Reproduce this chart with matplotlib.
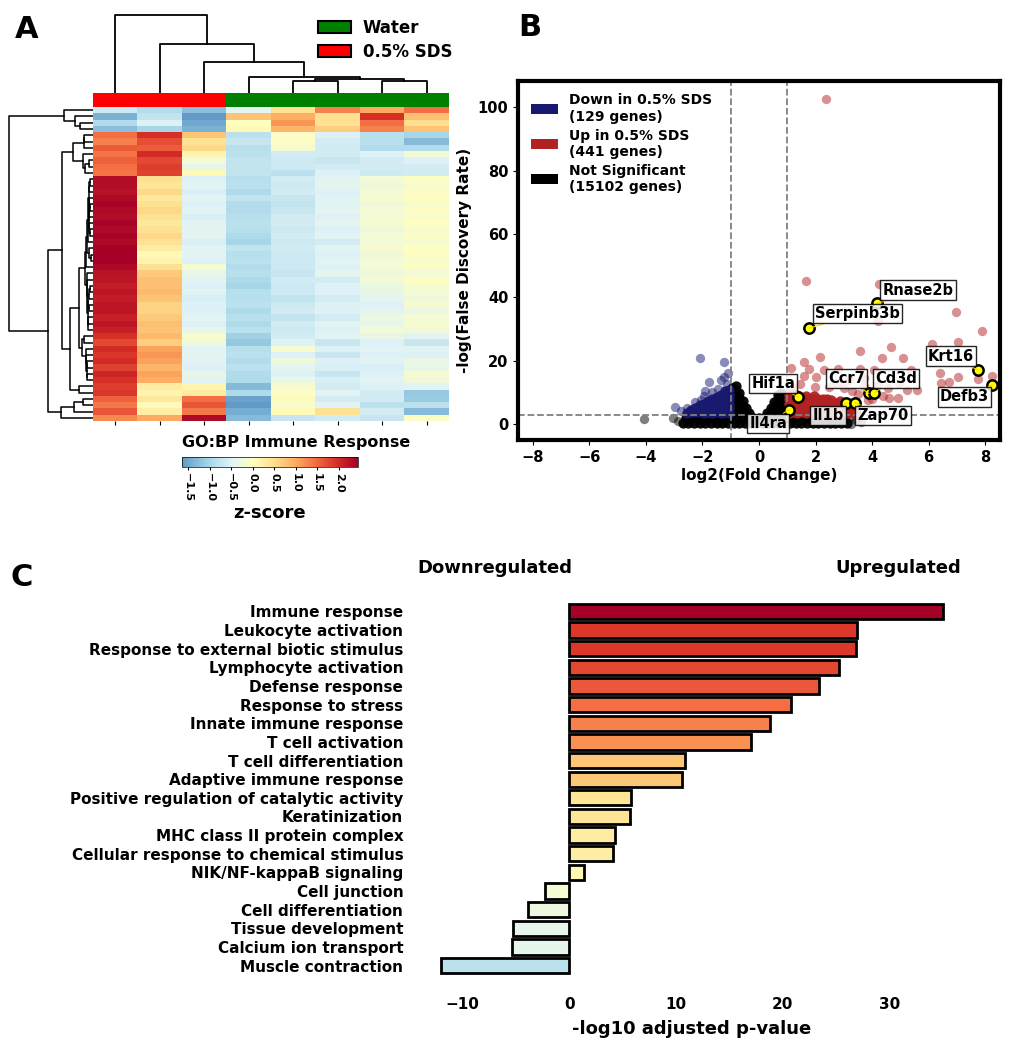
import numpy as np
import matplotlib
matplotlib.use('Agg')
import matplotlib.pyplot as plt
from matplotlib.patches import Patch
from matplotlib.colors import Normalize, ListedColormap

plt.rcParams['font.family'] = 'DejaVu Sans'
plt.rcParams['font.weight'] = 'bold'
plt.rcParams['axes.labelweight'] = 'bold'

# ---------------- panel A data: z-scores, columns SDS1-3 then Water1-5 ----------------
groups = ['0.5% SDS', '0.5% SDS', '0.5% SDS', 'Water', 'Water', 'Water', 'Water', 'Water']
group_colors = {'0.5% SDS': 'red', 'Water': 'green'}
heat = np.array([
    [-0.65, -0.90, -1.25, -0.40, 0.45, 1.30, 1.00, 1.47],
    [-1.40, -0.75, -1.64, 0.75, 0.95, 0.50, 1.95, 0.80],
    [-0.90, -0.50, -1.50, 0.00, 1.15, 0.45, 1.45, 0.50],
    [-1.25, -1.00, -1.40, 0.10, 0.90, 0.65, 1.30, 0.75],
    [1.45, 1.95, 0.75, -0.80, -0.05, -0.50, -0.85, -1.00],
    [1.30, 1.70, 0.45, -0.70, -0.05, -0.60, -0.85, -1.30],
    [1.60, 1.60, 0.55, -0.85, -0.15, -0.60, -0.90, -0.90],
    [1.40, 2.00, 0.15, -0.80, -0.60, -0.60, -0.50, -0.20],
    [1.55, 1.75, -0.20, -0.75, -0.65, -0.70, -0.60, -0.50],
    [1.45, 1.85, -0.35, -0.75, -0.65, -0.60, -0.60, -0.60],
    [1.40, 1.80, 0.10, -0.75, -0.80, -0.50, -0.65, -0.60],
    [2.30, 0.50, -0.50, -0.85, -0.60, -0.45, -0.20, -0.05],
    [2.30, 0.40, -0.45, -0.80, -0.65, -0.40, -0.25, -0.10],
    [2.25, 0.55, -0.55, -0.95, -0.60, -0.50, -0.20, -0.05],
    [2.35, 0.35, -0.45, -0.75, -0.70, -0.45, -0.15, 0.00],
    [2.40, 0.45, -0.50, -0.90, -0.75, -0.45, -0.25, -0.10],
    [2.35, 0.55, -0.45, -0.90, -0.70, -0.40, -0.20, -0.05],
    [2.30, 0.45, -0.55, -0.85, -0.60, -0.50, -0.20, -0.10],
    [2.40, 0.35, -0.45, -0.80, -0.60, -0.40, -0.15, 0.00],
    [2.35, 0.45, -0.40, -0.85, -0.65, -0.50, -0.25, -0.10],
    [2.40, 0.55, -0.45, -0.95, -0.60, -0.45, -0.20, -0.05],
    [2.35, 0.45, -0.55, -1.00, -0.65, -0.60, -0.20, -0.15],
    [2.42, 0.30, -0.45, -0.75, -0.60, -0.45, -0.15, 0.00],
    [2.45, 0.10, -0.45, -0.85, -0.65, -0.50, -0.25, -0.05],
    [2.45, 0.15, -0.50, -0.80, -0.65, -0.45, -0.20, -0.10],
    [2.35, 0.45, -0.15, -0.90, -0.65, -0.50, -0.20, -0.05],
    [2.25, 0.70, -0.35, -0.85, -0.70, -0.40, -0.25, -0.20],
    [2.20, 0.80, -0.45, -0.95, -0.60, -0.60, -0.20, 0.00],
    [2.15, 0.80, -0.50, -1.00, -0.65, -0.50, -0.30, -0.15],
    [2.20, 0.85, -0.45, -0.85, -0.65, -0.50, -0.35, -0.20],
    [2.15, 0.75, -0.55, -0.85, -0.75, -0.60, -0.40, -0.25],
    [2.20, 0.60, -0.50, -0.80, -0.65, -0.50, -0.50, -0.15],
    [2.20, 0.60, -0.50, -0.95, -0.60, -0.50, -0.40, -0.30],
    [2.10, 0.70, -0.45, -0.85, -0.75, -0.60, -0.30, -0.20],
    [2.20, 0.80, -0.50, -0.95, -0.60, -0.45, -0.35, -0.15],
    [2.10, 0.75, -0.35, -0.80, -0.65, -0.50, -0.20, -0.25],
    [1.95, 0.85, -0.10, -1.05, -0.60, -0.45, -0.35, -0.45],
    [1.75, 0.65, -0.25, -1.15, -0.50, -0.70, -0.50, -0.70],
    [2.00, 1.05, -0.45, -0.85, -0.15, -0.50, -0.45, -0.45],
    [1.90, 1.15, -0.40, -0.80, -0.50, -0.70, -0.50, -0.50],
    [2.00, 1.05, -0.45, -0.90, -0.25, -0.50, -0.45, -0.30],
    [1.80, 0.90, -0.50, -0.80, -0.40, -0.55, -0.55, -0.35],
    [2.05, 1.05, -0.35, -0.90, -0.50, -0.70, -0.50, -0.15],
    [1.95, 0.95, -0.45, -0.95, -0.30, -0.55, -0.45, -0.25],
    [1.85, 0.30, 0.15, -1.30, -0.15, -0.60, -0.50, -0.45],
    [1.90, 0.15, 0.30, -0.95, -0.05, -0.45, -0.60, -1.15],
    [1.55, 0.35, 1.45, -1.55, 0.05, -0.60, -0.60, -1.10],
    [1.35, 0.05, 1.65, -1.64, -0.10, -0.45, -0.80, -0.80],
    [1.65, 0.25, 1.35, -1.45, 0.05, 0.45, -0.60, -1.30],
    [1.25, 1.00, 2.35, -1.30, -0.70, -0.60, -0.70, -0.05],
])
# column dendrogram merges (left node, right node, height)
col_links = [(4, 5, 35), (6, 7, 35), (8, 9, 42), (3, 10, 49), (2, 11, 94), (1, 12, 147), (0, 13, 235)]

# ---------------- panel B data ----------------
ns_pts = [(-2.7, 0.3), (-2.5, 0.3), (-2.3, 0.3), (-2.1, 0.3), (-1.9, 0.3), (-1.7, 0.3), (-1.5, 0.3),
          (-1.3, 0.3), (-1.1, 0.3), (-0.9, 0.3), (-0.7, 0.3), (-0.5, 0.3), (-0.3, 0.3), (-0.1, 0.3),
          (0.1, 0.3), (0.3, 0.3), (0.5, 0.3), (0.7, 0.3), (0.9, 0.3), (1.1, 0.3), (1.3, 0.3), (1.5, 0.3),
          (1.7, 0.3), (1.9, 0.3), (2.1, 0.3), (2.3, 0.3), (2.5, 0.3), (2.7, 0.3), (2.9, 0.3), (3.1, 0.3),
          (-2.6, 1.9), (-2.4, 1.9), (-2.2, 1.9), (-2.0, 1.9), (-1.8, 1.9), (-1.6, 1.9), (-1.4, 1.9),
          (-1.2, 1.9), (-1.0, 1.9), (-0.8, 1.9), (-0.6, 1.9), (-0.4, 1.9), (-0.2, 1.9), (0.0, 1.9),
          (0.2, 1.9), (0.4, 1.9), (0.6, 1.9), (0.8, 1.9), (1.0, 1.9), (1.2, 1.9), (1.4, 1.9), (1.6, 1.9),
          (1.8, 1.9), (2.0, 1.9), (2.2, 1.9), (2.4, 1.9), (2.6, 1.9), (2.8, 1.9), (3.0, 1.9),
          (-0.95, 4.0), (-0.95, 5.5), (-0.95, 7.0), (-0.95, 8.5), (-0.95, 10.0), (-0.95, 11.5),
          (-0.82, 4.5), (-0.82, 6.0), (-0.82, 7.5), (-0.82, 9.0), (-0.82, 10.5), (-0.82, 12.0),
          (-0.70, 3.8), (-0.70, 5.3), (-0.70, 6.8), (-0.70, 8.3), (-0.70, 9.8),
          (-0.58, 4.2), (-0.58, 5.7), (-0.58, 7.2), (-0.46, 3.6), (-0.46, 5.1), (-0.34, 3.4),
          (0.30, 3.4), (0.42, 3.8), (0.42, 5.0), (0.54, 4.2), (0.54, 5.6), (0.54, 7.0),
          (0.66, 3.6), (0.66, 5.0), (0.66, 6.4), (0.66, 7.8), (0.66, 9.2),
          (0.78, 4.2), (0.78, 5.6), (0.78, 7.0), (0.78, 8.4), (0.78, 9.8),
          (0.90, 3.8), (0.90, 5.2), (0.90, 6.6), (0.90, 8.0), (0.97, 3.5), (0.97, 5.0), (0.97, 6.5)]
ns_outliers = [(-4.08, 1.6), (-3.04, 2.0), (-2.85, 1.0), (3.3, 2.6), (3.45, 1.4), (3.6, 0.6), (3.25, 0.2)]
down_pts = [(-2.55, 3.6), (-2.40, 3.8), (-2.40, 4.6), (-2.25, 3.7), (-2.25, 5.0), (-2.10, 3.8), (-2.10, 5.2),
            (-2.10, 6.2), (-1.95, 3.6), (-1.95, 5.0), (-1.95, 6.4), (-1.80, 3.8), (-1.80, 5.2), (-1.80, 6.6),
            (-1.80, 7.4), (-1.65, 3.6), (-1.65, 5.0), (-1.65, 6.4), (-1.65, 7.8), (-1.50, 3.8), (-1.50, 5.2),
            (-1.50, 6.6), (-1.50, 8.0), (-1.50, 8.6), (-1.35, 3.6), (-1.35, 5.0), (-1.35, 6.4), (-1.35, 7.8),
            (-1.35, 9.2), (-1.20, 3.8), (-1.20, 5.2), (-1.20, 6.6), (-1.20, 8.0), (-1.20, 9.4), (-1.20, 10.4),
            (-1.07, 3.6), (-1.07, 5.0), (-1.07, 6.4), (-1.07, 7.8), (-1.07, 9.2), (-1.07, 10.8)]
down_outliers = [(-2.1, 21.0), (-1.24, 19.7), (-1.08, 16.0), (-1.35, 13.9), (-1.76, 13.4), (-1.66, 10.2),
                 (-2.98, 5.5), (-2.27, 7.1), (-1.95, 8.8), (-2.55, 5.0), (-1.45, 11.2), (-1.15, 12.6),
                 (-2.05, 7.6), (-2.75, 4.2), (-1.9, 10.5), (-1.25, 14.8)]
up_pts = [(1.07, 3.6), (1.07, 5.0), (1.07, 6.4), (1.07, 7.8), (1.07, 9.2), (1.20, 3.8), (1.20, 5.2),
          (1.20, 6.6), (1.20, 8.0), (1.20, 9.4), (1.35, 3.6), (1.35, 5.0), (1.35, 6.4), (1.35, 7.8),
          (1.35, 9.2), (1.50, 3.8), (1.50, 5.2), (1.50, 6.6), (1.50, 8.0), (1.65, 3.6), (1.65, 5.0),
          (1.65, 6.4), (1.65, 7.8), (1.65, 9.0), (1.80, 3.8), (1.80, 5.2), (1.80, 6.6), (1.80, 8.0),
          (1.95, 3.6), (1.95, 5.0), (1.95, 6.4), (1.95, 7.8), (1.95, 8.8), (2.10, 3.8), (2.10, 5.2),
          (2.10, 6.6), (2.10, 8.0), (2.25, 3.6), (2.25, 5.0), (2.25, 6.4), (2.25, 7.8), (2.40, 3.8),
          (2.40, 5.2), (2.40, 6.6), (2.40, 8.0), (2.55, 3.6), (2.55, 5.0), (2.55, 6.4), (2.55, 7.6),
          (2.70, 3.8), (2.70, 5.2), (2.70, 6.6), (2.85, 3.6), (2.85, 5.0), (2.85, 6.4), (2.85, 7.2),
          (3.00, 3.8), (3.00, 5.2), (3.00, 6.0), (3.15, 3.6), (3.15, 4.8), (3.30, 3.8), (3.30, 5.0),
          (3.45, 3.6)]
up_outliers = [(2.38, 102.6), (1.65, 45.2), (4.25, 44.2), (4.22, 32.5), (6.96, 35.3), (7.89, 29.3),
               (6.12, 25.2), (7.06, 25.8), (3.58, 23.1), (4.66, 24.2), (2.16, 21.2), (4.34, 20.9),
               (5.08, 20.9), (1.58, 19.7), (1.76, 17.5), (1.12, 17.6), (2.80, 17.4), (2.29, 17.0),
               (3.56, 17.4), (4.06, 17.0), (5.37, 17.0), (6.40, 16.3), (7.05, 14.9), (7.75, 14.2),
               (8.26, 15.2), (6.43, 13.0), (6.73, 13.3), (1.58, 15.2), (2.03, 14.9), (4.95, 13.0),
               (4.58, 11.4), (5.24, 10.7), (5.59, 10.7), (4.92, 8.3), (2.47, 11.6), (1.97, 11.8),
               (1.2, 11.5), (1.45, 12.8), (3.0, 11.5), (3.3, 10.5), (3.7, 12.0), (4.4, 9.0), (3.85, 7.5),
               (4.2, 12.5), (2.75, 13.0), (3.2, 13.8), (3.5, 9.5), (4.0, 8.0), (4.6, 8.2), (3.7, 14.5)]
hl_genes = ['Rnase2b', 'Serpinb3b', 'Krt16', 'Defb3', 'Hif1a', 'Il4ra', 'Ccr7', 'Cd3d', 'Il1b', 'Zap70']
hl_x = [4.19, 1.78, 7.74, 8.26, 1.38, 1.06, 3.89, 4.08, 3.09, 3.39]
hl_y = [38.1, 30.3, 17.1, 12.4, 8.6, 4.6, 9.7, 9.9, 6.7, 6.8]
lab_x = [5.63, 3.48, 6.80, 7.28, 0.50, 0.33, 3.09, 4.86, 2.44, 4.39]
lab_y = [42.3, 34.9, 21.5, 8.6, 12.8, 0.2, 14.4, 14.4, 2.8, 2.8]
n_down, n_up, n_ns = 129, 441, 15102

# ---------------- panel C data ----------------
go_terms = ['Immune response', 'Leukocyte activation', 'Response to external biotic stimulus',
            'Lymphocyte activation', 'Defense response', 'Response to stress', 'Innate immune response',
            'T cell activation', 'T cell differentiation', 'Adaptive immune response',
            'Positive regulation of catalytic activity', 'Keratinization', 'MHC class II protein complex',
            'Cellular response to chemical stimulus', 'NIK/NF-kappaB signaling', 'Cell junction',
            'Cell differentiation', 'Tissue development', 'Calcium ion transport', 'Muscle contraction']
go_scores = [35.0, 27.0, 26.9, 25.3, 23.4, 20.8, 18.8, 17.0, 10.8, 10.6,
             5.8, 5.7, 4.3, 4.1, 1.4, -2.3, -3.9, -5.3, -5.4, -12.0]


def link_segments(links, n):
    pos = {i: i + 0.5 for i in range(n)}
    hgt = {i: 0.0 for i in range(n)}
    segs = []
    for k, (a, b, h) in enumerate(links):
        segs.append(([pos[a], pos[a], pos[b], pos[b]], [hgt[a], h, h, hgt[b]]))
        pos[n + k] = (pos[a] + pos[b]) / 2
        hgt[n + k] = h
    return segs


def ordered_links(data):
    # average linkage, only neighbouring clusters may merge (keeps row order)
    clusters = [(i, [i], 0.0) for i in range(len(data))]
    links = []
    nid = len(data)
    while len(clusters) > 1:
        dists = []
        for k in range(len(clusters) - 1):
            a = data[clusters[k][1]]
            b = data[clusters[k + 1][1]]
            dists.append(np.sqrt(((a[:, None, :] - b[None, :, :]) ** 2).sum(-1)).mean())
        k = int(np.argmin(dists))
        (ia, ma, ha), (ib, mb, hb) = clusters[k], clusters[k + 1]
        h = max(dists[k], ha, hb)
        links.append((ia, ib, h))
        clusters[k:k + 2] = [(nid, ma + mb, h)]
        nid += 1
    return links


W, H = 1012, 1050
fig = plt.figure(figsize=(W / 100, H / 100), dpi=100)


def px_axes(x0, y0, x1, y1):
    return fig.add_axes([x0 / W, 1 - y1 / H, (x1 - x0) / W, (y1 - y0) / H])


# ================= panel A =================
nrow, ncol = heat.shape
vmin, vmax = -1.64, 2.45
# colormap centred on 0 (like seaborn center=0), cut to the data range
lo = 0.5 + vmin / (2 * vmax)
hm_cmap = ListedColormap(plt.cm.RdYlBu_r(np.linspace(lo, 1.0, 256)))

ax_hm = px_axes(93, 107, 449, 421)
im = ax_hm.imshow(heat, cmap=hm_cmap, vmin=vmin, vmax=vmax, aspect='auto',
                  interpolation='nearest', extent=(0, ncol, nrow, 0))
ax_hm.set_xticks(np.arange(ncol) + 0.5)
ax_hm.set_xticklabels([''] * ncol)
ax_hm.set_yticks([])
ax_hm.tick_params(axis='x', length=3, width=0.8)
for s in ax_hm.spines.values():
    s.set_visible(False)

ax_grp = px_axes(93, 93, 449, 107)
ax_grp.imshow([[matplotlib.colors.to_rgb(group_colors[g]) for g in groups]], aspect='auto',
              extent=(0, ncol, 1, 0))
ax_grp.axis('off')

ax_top = px_axes(93, 13, 449, 93)
for xs, ys in link_segments(col_links, ncol):
    ax_top.plot(xs, ys, color='black', lw=1.3)
ax_top.set_xlim(0, ncol)
ax_top.set_ylim(0, 240)
ax_top.axis('off')

row_links = ordered_links(heat)
ax_left = px_axes(6, 107, 93, 421)
for xs, ys in link_segments(row_links, nrow):
    ax_left.plot(ys, xs, color='black', lw=1.1)
ax_left.set_ylim(nrow, 0)
ax_left.set_xlim(row_links[-1][2] * 1.03, 0)
ax_left.axis('off')

fig.legend(handles=[Patch(facecolor='green', edgecolor='black', lw=1.5, label='Water'),
                    Patch(facecolor='red', edgecolor='black', lw=1.5, label='0.5% SDS')],
           loc='upper left', bbox_to_anchor=(303 / W, 1 - 4 / H), frameon=False,
           fontsize=12, handlelength=2.0, handleheight=0.75, labelspacing=0.35, handletextpad=0.7)

cax = px_axes(182, 457, 358, 467)
cb = fig.colorbar(im, cax=cax, orientation='horizontal', ticks=[-1.5, -1.0, -0.5, 0.0, 0.5, 1.0, 1.5, 2.0])
cb.ax.tick_params(labelsize=8, length=2, pad=2)
for t in cb.ax.get_xticklabels():
    t.set_rotation(-90)
cb.outline.set_linewidth(0.5)
cb.set_label('z-score', fontsize=13, fontweight='bold', labelpad=2)
fig.text(182 / W, 1 - 443 / H, 'GO:BP Immune Response', fontsize=11.5, fontweight='bold',
         ha='left', va='center')

# ================= panel B =================
ax_v = px_axes(518, 81, 1000, 440)
nx, ny = zip(*ns_pts)
ax_v.scatter(nx, ny, s=55, color='black', alpha=0.95, lw=0)
nx, ny = zip(*ns_outliers)
ax_v.scatter(nx, ny, s=45, color='black', alpha=0.5, lw=0)
dx, dy = zip(*down_pts)
ax_v.scatter(dx, dy, s=55, color='midnightblue', alpha=0.95, lw=0)
dx, dy = zip(*down_outliers)
ax_v.scatter(dx, dy, s=45, color='midnightblue', alpha=0.5, lw=0)
ux, uy = zip(*up_pts)
ax_v.scatter(ux, uy, s=55, color='firebrick', alpha=0.95, lw=0)
ux, uy = zip(*up_outliers)
ax_v.scatter(ux, uy, s=45, color='firebrick', alpha=0.5, lw=0)
ax_v.axvline(-1, color='grey', ls='--', lw=1.3)
ax_v.axvline(1, color='grey', ls='--', lw=1.3)
ax_v.axhline(3.0, color='grey', ls='--', lw=1.3)
ax_v.scatter(hl_x, hl_y, s=55, facecolor='yellow', edgecolor='black', lw=1.8, zorder=5)
for g, x, y, tx, ty in zip(hl_genes, hl_x, hl_y, lab_x, lab_y):
    ax_v.annotate(g, (x, y), xytext=(tx, ty), ha='center', va='center', fontsize=10.5,
                  fontweight='bold', zorder=6,
                  bbox=dict(boxstyle='square,pad=0.15', facecolor='white', edgecolor='black',
                            lw=1.0, alpha=0.85),
                  arrowprops=dict(arrowstyle='-', color='gold', lw=0.8, shrinkA=0, shrinkB=0))
ax_v.set_xlim(-8.53, 8.53)
ax_v.set_ylim(-5, 108.3)
ax_v.set_xticks(range(-8, 9, 2))
ax_v.set_yticks(range(0, 101, 20))
ax_v.tick_params(labelsize=10.5)
ax_v.set_xlabel('log2(Fold Change)', fontsize=11, labelpad=2)
ax_v.set_ylabel('-log(False Discovery Rate)', fontsize=11)
for s in ax_v.spines.values():
    s.set_linewidth(3)
ax_v.legend(handles=[Patch(facecolor='midnightblue', label=f'Down in 0.5% SDS\n({n_down} genes)'),
                     Patch(facecolor='firebrick', label=f'Up in 0.5% SDS\n({n_up} genes)'),
                     Patch(facecolor='black', label=f'Not Significant\n({n_ns} genes)')],
            loc='upper left', frameon=False, fontsize=10, handlelength=2.0, handleheight=0.75,
            labelspacing=0.35, borderaxespad=0.5, handletextpad=0.8)

# ================= panel C =================
ax_c = px_axes(420, 601, 964, 976)
norm = Normalize(-35, 35)
ypos = np.arange(len(go_terms))
ax_c.barh(ypos, go_scores, height=0.82, color=plt.cm.RdYlBu_r(norm(np.array(go_scores))),
          edgecolor='black', linewidth=2)
ax_c.set_yticks(ypos)
ax_c.set_yticklabels(go_terms, fontsize=11)
ax_c.set_ylim(len(go_terms) - 0.45, -0.55)
ax_c.set_xlim(-14, 37)
ax_c.set_xticks([-10, 0, 10, 20, 30])
ax_c.tick_params(length=0, labelsize=11)
ax_c.tick_params(axis='x', pad=15)
ax_c.tick_params(axis='y', pad=12)
for s in ax_c.spines.values():
    s.set_visible(False)
ax_c.set_xlabel('-log10 adjusted p-value', fontsize=13, labelpad=6)
fig.text(495 / W, 1 - 568 / H, 'Downregulated', fontsize=13, fontweight='bold', ha='center', va='center')
fig.text(898 / W, 1 - 568 / H, 'Upregulated', fontsize=13, fontweight='bold', ha='center', va='center')

# panel letters
fig.text(27 / W, 1 - 30 / H, 'A', fontsize=22, fontweight='bold', ha='center', va='center')
fig.text(530 / W, 1 - 27 / H, 'B', fontsize=22, fontweight='bold', ha='center', va='center')
fig.text(22 / W, 1 - 578 / H, 'C', fontsize=22, fontweight='bold', ha='center', va='center')

fig.savefig('out.png', dpi=100)
